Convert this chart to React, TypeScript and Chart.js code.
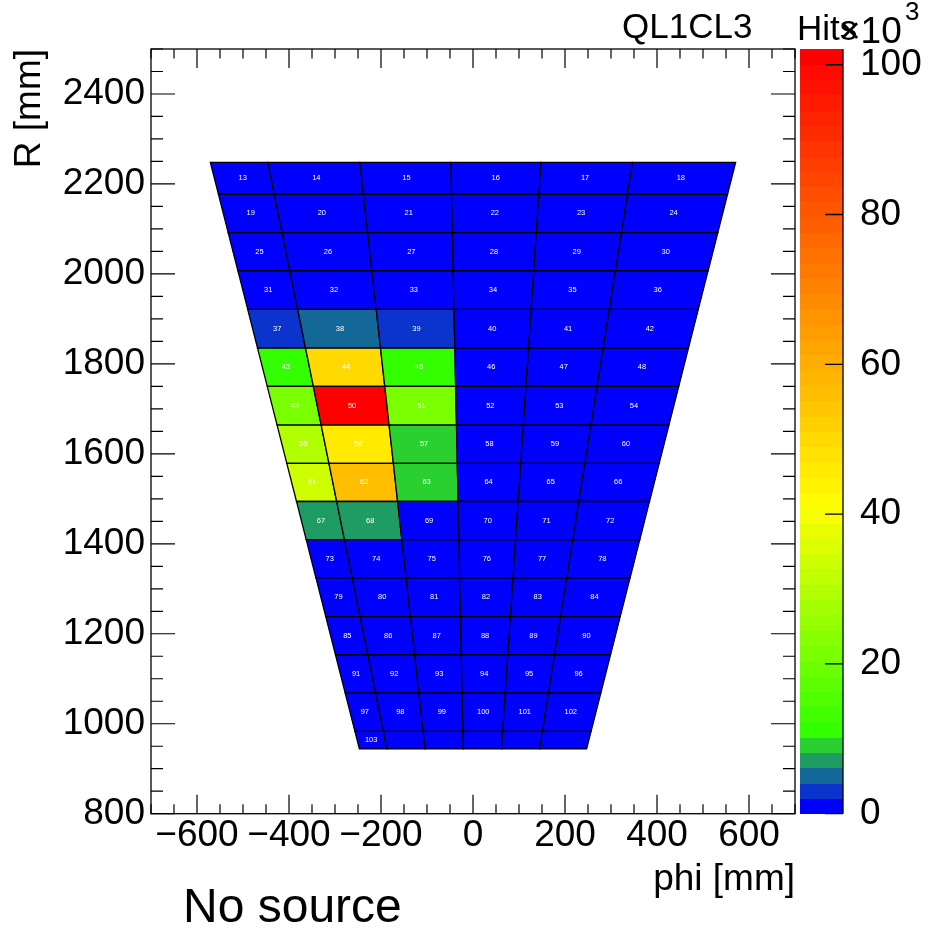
import React, { useEffect, useRef } from "react";
import { Chart, registerables } from "chart.js";

Chart.register(...registerables);

const FONT = "'Liberation Sans', Arial, Helvetica, sans-serif";

// axis ranges and ticks
const X_MIN = -700;
const X_MAX = 700;
const Y_MIN = 800;
const Y_MAX = 2500;
const Z_MIN = 0;
const Z_MAX = 102.1; // x10^3 hits
const Z_LEVELS = 50;
const MINOR_STEP = 50;
const X_TICKS = [-600, -400, -200, 0, 200, 400, 600];
const Y_TICKS = [800, 1000, 1200, 1400, 1600, 1800, 2000, 2200, 2400];
const Z_TICKS = [0, 20, 40, 60, 80, 100];

// texts
const TITLE = "QL1CL3";
const X_TITLE = "phi [mm]";
const Y_TITLE = "R [mm]";
const Z_TITLE = "Hits";
const NOTE = "No source";

// pad geometry: row edges in R (mm), bottom to top
const ROW_EDGES = [944, 983, 1068, 1153, 1238, 1324, 1409, 1494, 1579, 1664, 1750, 1835, 1921, 2007, 2092, 2177, 2248];
// column boundary lines: phi (mm) at the top edge and at the bottom edge
const COL_EDGES_TOP = [-571, -446, -246, -48, 148, 347, 571];
const COL_EDGES_BOTTOM = [-247, -187, -104, -21, 62, 145, 247];

// pad numbers, rows from top to bottom
const PAD_LABELS = [
  ["13", "14", "15", "16", "17", "18"],
  ["19", "20", "21", "22", "23", "24"],
  ["25", "26", "27", "28", "29", "30"],
  ["31", "32", "33", "34", "35", "36"],
  ["37", "38", "39", "40", "41", "42"],
  ["43", "44", "45", "46", "47", "48"],
  ["49", "50", "51", "52", "53", "54"],
  ["55", "56", "57", "58", "59", "60"],
  ["61", "62", "63", "64", "65", "66"],
  ["67", "68", "69", "70", "71", "72"],
  ["73", "74", "75", "76", "77", "78"],
  ["79", "80", "81", "82", "83", "84"],
  ["85", "86", "87", "88", "89", "90"],
  ["91", "92", "93", "94", "95", "96"],
  ["97", "98", "99", "100", "101", "102"],
  ["103", "", "", "", "", ""],
];

// hits per pad (x10^3), rows from top to bottom
const HITS_K = [
  [0.9, 1.0, 1.1, 1.0, 0.9, 0.8],
  [1.0, 1.2, 1.3, 1.1, 1.0, 0.9],
  [1.1, 1.3, 1.4, 1.2, 1.0, 0.9],
  [1.2, 1.5, 1.6, 1.3, 1.1, 1.0],
  [3.1, 5.0, 3.3, 1.4, 1.1, 1.0],
  [11.2, 50.0, 11.5, 1.5, 1.2, 1.0],
  [21.5, 102.1, 21.3, 1.5, 1.2, 1.0],
  [29.8, 45.9, 9.2, 1.4, 1.1, 1.0],
  [33.6, 56.2, 9.0, 1.3, 1.1, 1.0],
  [7.1, 7.3, 1.9, 1.2, 1.0, 0.9],
  [1.5, 1.8, 1.4, 1.1, 1.0, 0.9],
  [1.3, 1.5, 1.3, 1.0, 0.9, 0.8],
  [1.1, 1.3, 1.2, 1.0, 0.9, 0.8],
  [1.0, 1.1, 1.0, 0.9, 0.8, 0.7],
  [0.9, 1.0, 0.9, 0.8, 0.7, 0.7],
  [0.6, 0.5, 0.5, 0.5, 0.4, 0.4],
];

// colour palette (gradient stops over the level range)
const PALETTE_STOPS = [0, 0.1, 0.4, 1];
const PALETTE_RGB = [
  [0, 0, 255],
  [50, 255, 0],
  [255, 255, 0],
  [255, 0, 0],
];

function levelColor(level: number): string {
  const p = level / (Z_LEVELS - 1);
  let k = 0;
  while (k < PALETTE_STOPS.length - 2 && p > PALETTE_STOPS[k + 1]) k++;
  const t = Math.min(1, Math.max(0, (p - PALETTE_STOPS[k]) / (PALETTE_STOPS[k + 1] - PALETTE_STOPS[k])));
  const a = PALETTE_RGB[k];
  const b = PALETTE_RGB[k + 1];
  const c = a.map((v, i) => Math.round(v + (b[i] - v) * t));
  return `rgb(${c[0]},${c[1]},${c[2]})`;
}

function valueLevel(v: number): number {
  const l = Math.floor(((v - Z_MIN) / (Z_MAX - Z_MIN)) * Z_LEVELS);
  return Math.min(Z_LEVELS - 1, Math.max(0, l));
}

function fmt(v: number): string {
  return v < 0 ? "\u2212" + Math.abs(v) : String(v);
}

const padPlugin = {
  id: "padmap",
  beforeDatasetsDraw(chart: any) {
    const { ctx, chartArea, scales } = chart;
    const xs = scales.x;
    const ys = scales.y;
    const nRows = ROW_EDGES.length - 1;
    const rBot = ROW_EDGES[0];
    const rTop = ROW_EDGES[nRows];
    const colX = (k: number, R: number) =>
      COL_EDGES_BOTTOM[k] + ((COL_EDGES_TOP[k] - COL_EDGES_BOTTOM[k]) * (R - rBot)) / (rTop - rBot);

    ctx.save();
    ctx.beginPath();
    ctx.rect(chartArea.left, chartArea.top, chartArea.right - chartArea.left, chartArea.bottom - chartArea.top);
    ctx.clip();
    const labels: any[] = [];
    for (let rowTop = 0; rowTop < nRows; rowTop++) {
      const i = nRows - 1 - rowTop;
      const r0 = ROW_EDGES[i];
      const r1 = ROW_EDGES[i + 1];
      for (let c = 0; c < COL_EDGES_TOP.length - 1; c++) {
        const corners = [
          [colX(c, r0), r0],
          [colX(c + 1, r0), r0],
          [colX(c + 1, r1), r1],
          [colX(c, r1), r1],
        ].map(([a, b]) => [xs.getPixelForValue(a), ys.getPixelForValue(b)]);
        ctx.beginPath();
        ctx.moveTo(corners[0][0], corners[0][1]);
        for (let j = 1; j < 4; j++) ctx.lineTo(corners[j][0], corners[j][1]);
        ctx.closePath();
        ctx.fillStyle = levelColor(valueLevel(HITS_K[rowTop][c]));
        ctx.fill();
        ctx.lineWidth = 1.3;
        ctx.strokeStyle = "#000";
        ctx.stroke();
        const cx = (corners[0][0] + corners[1][0] + corners[2][0] + corners[3][0]) / 4;
        const cy = (corners[0][1] + corners[2][1]) / 2;
        labels.push([PAD_LABELS[rowTop][c], cx, cy]);
      }
    }
    ctx.fillStyle = "#ffffff";
    ctx.font = `7.5px ${FONT}`;
    ctx.textAlign = "center";
    ctx.textBaseline = "middle";
    for (const [t, cx, cy] of labels) if (t) ctx.fillText(t, cx, cy);
    ctx.restore();
  },
  afterDraw(chart: any) {
    const { ctx, chartArea, scales } = chart;
    const xs = scales.x;
    const ys = scales.y;
    const zs = scales.z;
    const { left, right, top, bottom } = chartArea;
    ctx.save();
    // frame
    ctx.strokeStyle = "#000";
    ctx.lineWidth = 1.3;
    ctx.strokeRect(left, top, right - left, bottom - top);
    // ticks
    ctx.lineWidth = 1.2;
    ctx.beginPath();
    for (let v = X_MIN; v <= X_MAX; v += MINOR_STEP) {
      const px = xs.getPixelForValue(v);
      const len = X_TICKS.includes(v) ? 19 : 9.5;
      ctx.moveTo(px, bottom);
      ctx.lineTo(px, bottom - len);
      ctx.moveTo(px, top);
      ctx.lineTo(px, top + len);
    }
    for (let v = Y_MIN; v <= Y_MAX; v += MINOR_STEP) {
      const py = ys.getPixelForValue(v);
      const len = Y_TICKS.includes(v) ? 24 : 12;
      ctx.moveTo(left, py);
      ctx.lineTo(left + len, py);
      ctx.moveTo(right, py);
      ctx.lineTo(right - len, py);
    }
    ctx.stroke();

    // colour bar
    const bx0 = right + 5;
    const bx1 = right + 48;
    for (let i = 0; i < Z_LEVELS; i++) {
      const y0 = zs.getPixelForValue(Z_MIN + ((Z_MAX - Z_MIN) * i) / Z_LEVELS);
      const y1 = zs.getPixelForValue(Z_MIN + ((Z_MAX - Z_MIN) * (i + 1)) / Z_LEVELS);
      ctx.fillStyle = levelColor(i);
      ctx.fillRect(bx0, Math.floor(y1), bx1 - bx0, Math.ceil(y0) - Math.floor(y1));
    }
    ctx.strokeStyle = "#000";
    ctx.lineWidth = 1.3;
    ctx.beginPath();
    ctx.moveTo(bx1, zs.getPixelForValue(Z_MAX));
    ctx.lineTo(bx1, zs.getPixelForValue(Z_MIN));
    for (const v of Z_TICKS) {
      const py = zs.getPixelForValue(v);
      ctx.moveTo(bx1, py);
      ctx.lineTo(bx1 - 18, py);
    }
    ctx.stroke();

    // texts
    ctx.fillStyle = "#000";
    ctx.textAlign = "left";
    ctx.textBaseline = "alphabetic";
    ctx.font = `35px ${FONT}`;
    ctx.fillText(TITLE, 622, 38);
    ctx.fillText(Z_TITLE, 797, 40);
    ctx.font = `37px ${FONT}`;
    ctx.fillText("\u00d710", 839, 43);
    ctx.font = `26px ${FONT}`;
    ctx.fillText("3", 905, 20);
    ctx.font = `48px ${FONT}`;
    ctx.fillText(NOTE, 183, 922);
    ctx.restore();
  },
};

export default function App() {
  const ref = useRef<HTMLCanvasElement | null>(null);
  useEffect(() => {
    if (!ref.current) return;
    const tickFont = { family: FONT, size: 37 };
    const chart = new Chart(ref.current, {
      type: "scatter",
      data: { datasets: [{ data: [], pointRadius: 0 }] },
      options: {
        animation: false,
        responsive: false,
        maintainAspectRatio: false,
        devicePixelRatio: 1,
        layout: { padding: 0 },
        plugins: { legend: { display: false }, tooltip: { enabled: false } },
        scales: {
          x: {
            type: "linear",
            position: "bottom",
            min: X_MIN,
            max: X_MAX,
            afterBuildTicks: (s: any) => {
              s.ticks = X_TICKS.map((v) => ({ value: v }));
            },
            afterFit: (s: any) => {
              s.height = 929 - 813.7;
            },
            grid: { display: false, drawTicks: false },
            border: { display: false },
            ticks: {
              padding: 0,
              autoSkip: false,
              maxRotation: 0,
              minRotation: 0,
              color: "#000",
              font: tickFont,
              callback: (v: any) => fmt(Number(v)),
            },
            title: {
              display: true,
              text: X_TITLE,
              align: "end",
              color: "#000",
              font: { family: FONT, size: 37 },
              padding: { top: 0, bottom: 27 },
            },
          },
          y: {
            type: "linear",
            position: "left",
            min: Y_MIN,
            max: Y_MAX,
            afterBuildTicks: (s: any) => {
              s.ticks = Y_TICKS.map((v) => ({ value: v }));
            },
            afterFit: (s: any) => {
              s.width = 151;
              s.paddingTop = 49;
            },
            grid: { display: false, drawTicks: false },
            border: { display: false },
            ticks: {
              padding: 6,
              autoSkip: false,
              color: "#000",
              font: tickFont,
              callback: (v: any) => fmt(Number(v)),
            },
            title: {
              display: true,
              text: Y_TITLE,
              align: "end",
              color: "#000",
              font: { family: FONT, size: 37 },
              padding: { top: 8, bottom: 0 },
            },
          },
          z: {
            type: "linear",
            axis: "y",
            position: "right",
            min: Z_MIN,
            max: Z_MAX,
            afterBuildTicks: (s: any) => {
              s.ticks = Z_TICKS.map((v) => ({ value: v }));
            },
            afterFit: (s: any) => {
              s.width = 932 - 795;
              s.paddingTop = 49;
            },
            grid: { display: false, drawTicks: false },
            border: { display: false },
            ticks: {
              padding: 65,
              autoSkip: false,
              color: "#000",
              font: tickFont,
              callback: (v: any) => String(v),
            },
          },
        },
      },
      plugins: [padPlugin],
    } as any);
    return () => chart.destroy();
  }, []);

  return (
    <div style={{ position: "fixed", left: 0, top: 0, width: 932, height: 929, background: "#fff" }}>
      <canvas ref={ref} width={932} height={929} style={{ display: "block" }} />
    </div>
  );
}
